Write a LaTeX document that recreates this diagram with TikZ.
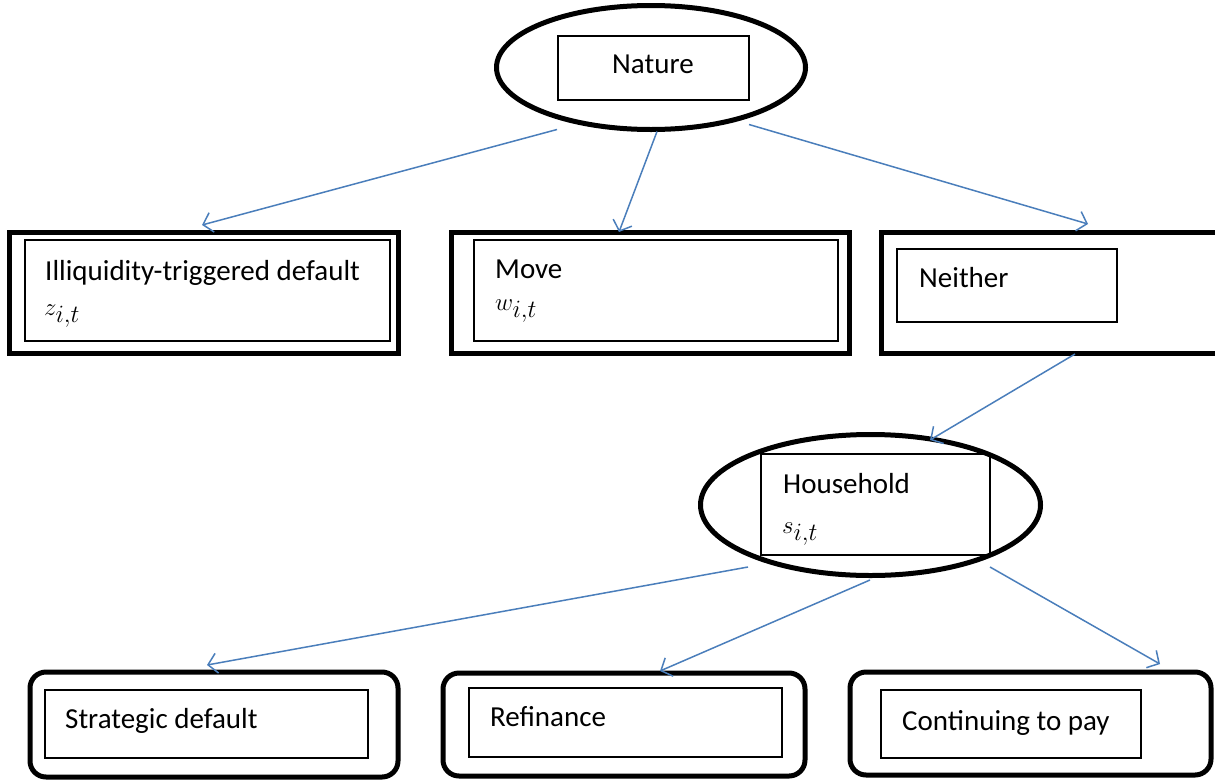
\documentclass[tikz,border=0pt]{standalone}
\usepackage{fontspec}
\setmainfont{Carlito}
\usetikzlibrary{shapes.geometric,arrows.meta}
\definecolor{arrowblue}{HTML}{4A7EBB}
\begin{document}
\begin{tikzpicture}[x=1pt,y=-1pt,
  outerbox/.style={draw, line width=5pt, inner sep=0pt, outer sep=0pt},
  roundbox/.style={outerbox, rounded corners=16pt},
  innerbox/.style={draw, line width=1.2pt, inner sep=0pt, outer sep=0pt},
  oval/.style={ellipse, draw, line width=5pt, inner sep=0pt, outer sep=0pt},
  lbl/.style={anchor=base west, inner sep=0pt, font=\fontsize{29}{34}\selectfont},
  mlbl/.style={anchor=base west, inner sep=0pt, font=\fontsize{34}{40}\selectfont},
  arr/.style={draw=arrowblue, line width=1.5pt, -{Straight Barb[length=9pt,width=20pt]}}
]
\useasboundingbox (0,0) rectangle (1215,782);
\begin{scope}
\clip (0,0) rectangle (1215,782);
% Nature
\node[oval, minimum width=309pt, minimum height=124pt] (nat) at (651,67.5) {};
\node[innerbox, minimum width=191pt, minimum height=64pt] (natin) at (653.5,68) {};
\node[lbl] (tnat) at (612,73) {Nature};
% first row
\node[outerbox, minimum width=389pt, minimum height=121pt] (o1) at (203.5,292.5) {};
\node[innerbox, minimum width=365pt, minimum height=101pt] (i1) at (207.5,290.5) {};
\node[lbl] (t1) at (45,280) {Illiquidity-triggered default};
\node[mlbl] (m1) at (44,315) {$z_{i,t}$};
\node[outerbox, minimum width=398pt, minimum height=121pt] (o2) at (650,292.5) {};
\node[innerbox, minimum width=364pt, minimum height=101pt] (i2) at (656,290.5) {};
\node[lbl] (t2) at (495,278) {Move};
\node[mlbl] (m2) at (495,310) {$w_{i,t}$};
\node[outerbox, minimum width=349pt, minimum height=121pt] (o3) at (1055.5,292.5) {};
\node[innerbox, minimum width=220pt, minimum height=73pt] (i3) at (1007,285.5) {};
\node[lbl] (t3) at (919,287) {Neither};
% Household
\node[oval, minimum width=340pt, minimum height=141pt] (hh) at (870.5,505) {};
\node[innerbox, minimum width=229pt, minimum height=101pt] (hhin) at (875.5,504.5) {};
\node[lbl] (thh) at (783,493) {Household};
\node[mlbl] (mhh) at (782,533) {$s_{i,t}$};
% bottom row
\node[roundbox, minimum width=368pt, minimum height=105pt] (b1) at (214,724.5) {};
\node[innerbox, minimum width=323pt, minimum height=68pt] (bi1) at (206.5,724) {};
\node[lbl] (tb1) at (65,728) {Strategic default};
\node[roundbox, minimum width=362pt, minimum height=103pt] (b2) at (624,724.5) {};
\node[innerbox, minimum width=313pt, minimum height=69pt] (bi2) at (625.5,722.5) {};
\node[lbl] (tb2) at (490,726) {Refinance};
\node[roundbox, minimum width=361pt, minimum height=103pt] (b3) at (1030.5,723.5) {};
\node[innerbox, minimum width=260pt, minimum height=68pt] (bi3) at (1011,724) {};
\node[lbl] (tb3) at (902,730) {Continuing to pay};
% arrows
\draw[arr] ([xshift=-94pt]nat.south) -- ([xshift=-1.5pt,yshift=7pt]o1.north);
\draw[arr] ([xshift=6pt,yshift=-2pt]nat.south) -- ([xshift=-31pt]o2.north);
\draw[arr] ([xshift=98pt,yshift=5pt]nat.south) -- ([xshift=32.5pt,yshift=8pt]o3.north);
\draw[arr] ([xshift=19.5pt,yshift=-1pt]o3.south) -- ([xshift=59.5pt,yshift=-5.5pt]hh.north);
\draw[arr] ([xshift=-122.5pt,yshift=8.5pt]hh.south) -- ([xshift=-7pt,yshift=7pt]b1.north);
\draw[arr] ([xshift=-0.5pt,yshift=-4.5pt]hh.south) -- ([xshift=36pt,yshift=2pt]b2.north);
\draw[arr] ([xshift=119.5pt,yshift=8.5pt]hh.south) -- ([xshift=129.5pt,yshift=8pt]b3.north);
\end{scope}
\end{tikzpicture}
\end{document}
